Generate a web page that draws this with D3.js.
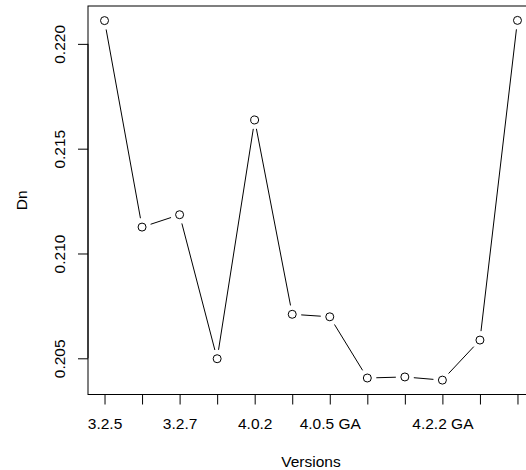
<!DOCTYPE html>
<html>
<head>
<meta charset="utf-8">
<script src="https://cdn.jsdelivr.net/npm/d3@7"></script>
<style>
  html, body { margin: 0; padding: 0; background: #fff; }
  svg { display: block; }
  text { font-family: "Liberation Sans", Arial, Helvetica, sans-serif; fill: #000; }
</style>
</head>
<body>
<script>
// ---- data ----
const positions = [1, 2, 3, 4, 5, 6, 7, 8, 9, 10, 11, 12];
const tickLabels = ["3.2.5", "", "3.2.7", "", "4.0.2", "", "4.0.5 GA", "", "", "4.2.2 GA", "", ""];
const dnValues = [0.22111, 0.21126, 0.21185, 0.20498, 0.21637, 0.20710, 0.20698, 0.20406, 0.20411, 0.20396, 0.20587, 0.22112];
const yTicks = [0.205, 0.210, 0.215, 0.220];
const xTitle = "Versions";
const yTitle = "Dn";

// ---- layout ----
const W = 526, H = 470;
const box = { left: 88, top: 6, right: 534, bottom: 394.5 };
const fontSize = 15.5;

const svg = d3.select("body").append("svg").attr("width", W).attr("height", H);

// R-style 4% axis extension
const xr = d3.extent(positions), yr = d3.extent(dnValues);
const xpad = (xr[1] - xr[0]) * 0.04, ypad = (yr[1] - yr[0]) * 0.04;
const x = d3.scaleLinear().domain([xr[0] - xpad, xr[1] + xpad]).range([box.left, box.right]);
const y = d3.scaleLinear().domain([yr[0] - ypad, yr[1] + ypad]).range([box.bottom, box.top]);

// box
svg.append("rect")
  .attr("x", box.left).attr("y", box.top)
  .attr("width", box.right - box.left).attr("height", box.bottom - box.top)
  .attr("fill", "none").attr("stroke", "#000").attr("stroke-width", 1);

// x axis
const xAxis = d3.axisBottom(x)
  .tickValues(positions)
  .tickFormat((d, i) => tickLabels[i])
  .tickSize(10).tickPadding(13);
const gx = svg.append("g").attr("transform", `translate(0,${box.bottom})`).call(xAxis);
gx.select(".domain").remove();
gx.append("line")
  .attr("x1", x(positions[0])).attr("x2", x(positions[positions.length - 1]))
  .attr("y1", 0).attr("y2", 0).attr("stroke", "#000");
gx.selectAll("text").style("font-size", fontSize + "px").attr("fill", "#000")
  .style("font-family", '"Liberation Sans", Arial, Helvetica, sans-serif');

// y axis
const yAxis = d3.axisLeft(y)
  .tickValues(yTicks)
  .tickFormat(d3.format(".3f"))
  .tickSize(10);
const gy = svg.append("g").attr("transform", `translate(${box.left},0)`).call(yAxis);
gy.select(".domain").remove();
gy.append("line")
  .attr("x1", 0).attr("x2", 0)
  .attr("y1", y(yTicks[0])).attr("y2", y(yTicks[yTicks.length - 1])).attr("stroke", "#000");
gy.selectAll("text")
  .attr("transform", "rotate(-90)")
  .attr("x", 0).attr("y", -23).attr("dy", 0)
  .attr("text-anchor", "middle")
  .attr("fill", "#000")
  .style("font-size", fontSize + "px")
  .style("font-family", '"Liberation Sans", Arial, Helvetica, sans-serif');

// line segments with gaps (type = "b")
const gap = 9;
const pts = positions.map((p, i) => [x(p), y(dnValues[i])]);
const segs = [];
for (let i = 0; i < pts.length - 1; i++) {
  const [x0, y0] = pts[i], [x1, y1] = pts[i + 1];
  const dx = x1 - x0, dy = y1 - y0, len = Math.hypot(dx, dy);
  if (len > 2 * gap) {
    const ux = dx / len, uy = dy / len;
    segs.push([x0 + ux * gap, y0 + uy * gap, x1 - ux * gap, y1 - uy * gap]);
  }
}
svg.append("g").selectAll("line").data(segs).join("line")
  .attr("x1", d => d[0]).attr("y1", d => d[1])
  .attr("x2", d => d[2]).attr("y2", d => d[3])
  .attr("stroke", "#000").attr("stroke-width", 1);

// points
svg.append("g").selectAll("circle").data(positions).join("circle")
  .attr("cx", d => x(d)).attr("cy", (d, i) => y(dnValues[i]))
  .attr("r", 4).attr("fill", "none").attr("stroke", "#000").attr("stroke-width", 1);

// titles
svg.append("text")
  .attr("x", (box.left + box.right) / 2).attr("y", 467)
  .attr("text-anchor", "middle").style("font-size", fontSize + "px")
  .text(xTitle);
svg.append("text")
  .attr("transform", `translate(27,${(box.top + box.bottom) / 2}) rotate(-90)`)
  .attr("text-anchor", "middle").style("font-size", fontSize + "px")
  .text(yTitle);
</script>
</body>
</html>
